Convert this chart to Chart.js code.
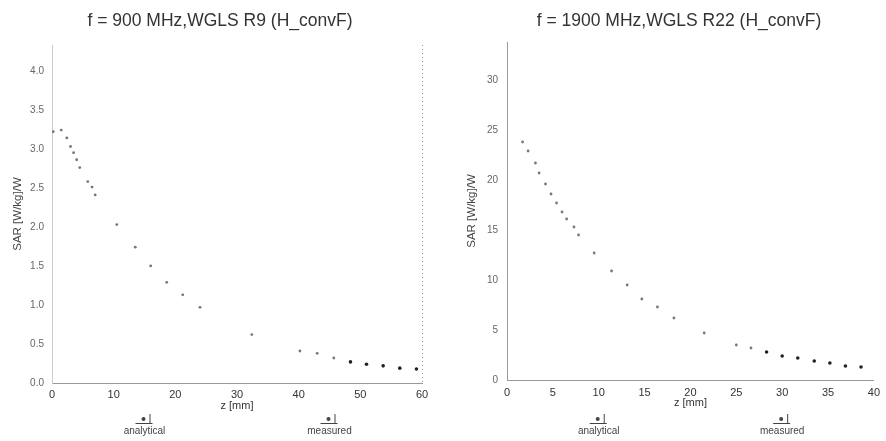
<!DOCTYPE html>
<html>
<head>
<meta charset="utf-8">
<script src="https://cdn.jsdelivr.net/npm/chart.js@4.4.1/dist/chart.umd.min.js"></script>
<style>
  html, body { margin: 0; padding: 0; background: #fff; width: 886px; height: 441px; overflow: hidden; }
  #left { position: absolute; left: 0; top: 0; }
  #right { position: absolute; left: 440px; top: 0; }
</style>
</head>
<body>
<canvas id="left" width="440" height="441"></canvas>
<canvas id="right" width="446" height="441"></canvas>
<script>
// 900 MHz
const leftTitle = 'f = 900 MHz,WGLS R9 (H_convF)';
const leftAnalyticalZ = [0.2, 1.5, 2.4, 3, 3.5, 4, 4.5, 5.8, 6.5, 7, 10.5, 13.5, 16, 18.6, 21.2, 24, 32.4, 40.2, 43, 45.7];
const leftAnalyticalSar = [3.22, 3.24, 3.14, 3.03, 2.95, 2.86, 2.76, 2.58, 2.51, 2.41, 2.03, 1.74, 1.5, 1.29, 1.13, 0.97, 0.62, 0.41, 0.38, 0.32];
const leftMeasuredZ = [48.4, 51, 53.7, 56.4, 59.1];
const leftMeasuredSar = [0.27, 0.24, 0.22, 0.19, 0.18];
const leftXTicks = [0, 10, 20, 30, 40, 50, 60];
const leftYTicks = [0, 0.5, 1, 1.5, 2, 2.5, 3, 3.5, 4];

// 1900 MHz
const rightTitle = 'f = 1900 MHz,WGLS R22 (H_convF)';
const rightAnalyticalZ = [1.7, 2.3, 3.1, 3.5, 4.2, 4.8, 5.4, 6, 6.5, 7.3, 7.8, 9.5, 11.4, 13.1, 14.7, 16.4, 18.2, 21.5, 25, 26.6];
const rightAnalyticalSar = [23.8, 22.9, 21.7, 20.7, 19.6, 18.6, 17.7, 16.8, 16.1, 15.3, 14.5, 12.7, 10.9, 9.5, 8.1, 7.3, 6.2, 4.7, 3.5, 3.2];
const rightMeasuredZ = [28.3, 30, 31.7, 33.5, 35.2, 36.9, 38.6];
const rightMeasuredSar = [2.8, 2.4, 2.2, 1.9, 1.7, 1.4, 1.3];
const rightXTicks = [0, 5, 10, 15, 20, 25, 30, 35, 40];
const rightYTicks = [0, 5, 10, 15, 20, 25, 30];

const legendLabels = ['analytical', 'measured'];
const xLabel = 'z [mm]';
const yLabel = 'SAR [W/kg]/W';

const FONT = "'Liberation Sans', Arial, sans-serif";

function pts(xs, ys) {
  return xs.map((x, i) => ({ x: x, y: ys[i] }));
}

// title, legend and frame line drawn on top of the chart
const decor = {
  id: 'decor',
  afterDraw(chart, args, opts) {
    const ctx = chart.ctx;
    const a = chart.chartArea;
    ctx.save();
    ctx.fillStyle = '#333';
    ctx.font = '17.5px ' + FONT;
    ctx.textAlign = 'center';
    ctx.textBaseline = 'middle';
    ctx.fillText(opts.title, opts.titleX, 21);

    if (opts.rightBorder) {
      ctx.strokeStyle = '#999';
      ctx.lineWidth = 1;
      ctx.setLineDash([1, 3]);
      ctx.beginPath();
      ctx.moveTo(a.right + 0.5, a.top);
      ctx.lineTo(a.right + 0.5, a.bottom);
      ctx.stroke();
      ctx.setLineDash([]);
    }

    [0.25, 0.75].forEach((f, i) => {
      const cx = a.left + (a.right - a.left) * f;
      ctx.strokeStyle = '#444';
      ctx.fillStyle = '#444';
      ctx.lineWidth = 1;
      ctx.beginPath();
      ctx.arc(cx - 1, 419, 2, 0, Math.PI * 2);
      ctx.fill();
      ctx.beginPath();
      ctx.moveTo(cx + 5.5, 414);
      ctx.lineTo(cx + 5.5, 423);
      ctx.moveTo(cx - 9, 423.5);
      ctx.lineTo(cx + 8, 423.5);
      ctx.stroke();
      ctx.font = '10px ' + FONT;
      ctx.fillText(legendLabels[i], cx, 431);
    });
    ctx.restore();
  }
};

function makeChart(id, c) {
  return new Chart(document.getElementById(id), {
    type: 'scatter',
    data: {
      datasets: [
        {
          label: legendLabels[0],
          data: pts(c.az, c.as),
          backgroundColor: '#777',
          borderColor: '#777',
          pointRadius: 1.4,
          pointBorderWidth: 0
        },
        {
          label: legendLabels[1],
          data: pts(c.mz, c.ms),
          backgroundColor: '#222',
          borderColor: '#222',
          pointRadius: 1.8,
          pointBorderWidth: 0
        }
      ]
    },
    options: {
      responsive: false,
      animation: false,
      layout: { padding: { left: 0, right: c.padRight, top: c.padTop, bottom: 0 } },
      plugins: {
        legend: { display: false },
        tooltip: { enabled: false },
        decor: { title: c.title, titleX: c.titleX, rightBorder: c.rightBorder }
      },
      scales: {
        x: {
          type: 'linear',
          min: c.xTicks[0],
          max: c.xTicks[c.xTicks.length - 1],
          afterBuildTicks: s => { s.ticks = c.xTicks.map(v => ({ value: v })); },
          afterFit: s => { s.height = c.xHeight; },
          grid: { display: false, drawTicks: false },
          border: { display: true, color: '#999', dash: [1, 2] },
          ticks: { color: '#333', font: { family: FONT, size: 11 }, padding: c.xTickPad, maxRotation: 0 },
          title: { display: true, text: xLabel, color: '#333', font: { family: FONT, size: 11 }, padding: { top: 0, bottom: c.xTitlePad } }
        },
        y: {
          type: 'linear',
          min: 0,
          max: c.yMax,
          afterBuildTicks: s => { s.ticks = c.yTicks.map(v => ({ value: v })); },
          afterFit: s => { s.width = c.yWidth; },
          grid: { display: false, drawTicks: false },
          border: { display: true, color: c.yBorder, dash: [1, 2] },
          ticks: { color: '#666', font: { family: FONT, size: 10 }, padding: c.yTickPad, callback: c.yFmt },
          title: { display: true, text: yLabel, color: '#444', font: { family: FONT, size: 11.5 }, padding: { top: c.yTitlePad, bottom: 0 } }
        }
      }
    },
    plugins: [decor]
  });
}

makeChart('left', {
  title: leftTitle, titleX: 220, rightBorder: true,
  az: leftAnalyticalZ, as: leftAnalyticalSar, mz: leftMeasuredZ, ms: leftMeasuredSar,
  xTicks: leftXTicks, yTicks: leftYTicks, yMax: 4.33,
  padRight: 18, padTop: 45, xHeight: 58, yWidth: 52,
  xTickPad: 5, xTitlePad: 28, yTickPad: 8, yTitlePad: 11, yBorder: '#ccc',
  yFmt: v => v.toFixed(1)
});

makeChart('right', {
  title: rightTitle, titleX: 239, rightBorder: false,
  az: rightAnalyticalZ, as: rightAnalyticalSar, mz: rightMeasuredZ, ms: rightMeasuredSar,
  xTicks: rightXTicks, yTicks: rightYTicks, yMax: 33.8,
  padRight: 6, padTop: 42, xHeight: 61, yWidth: 67,
  xTickPad: 6, xTitlePad: 31, yTickPad: 9, yTitlePad: 25, yBorder: '#999',
  yFmt: v => String(v)
});
</script>
</body>
</html>
